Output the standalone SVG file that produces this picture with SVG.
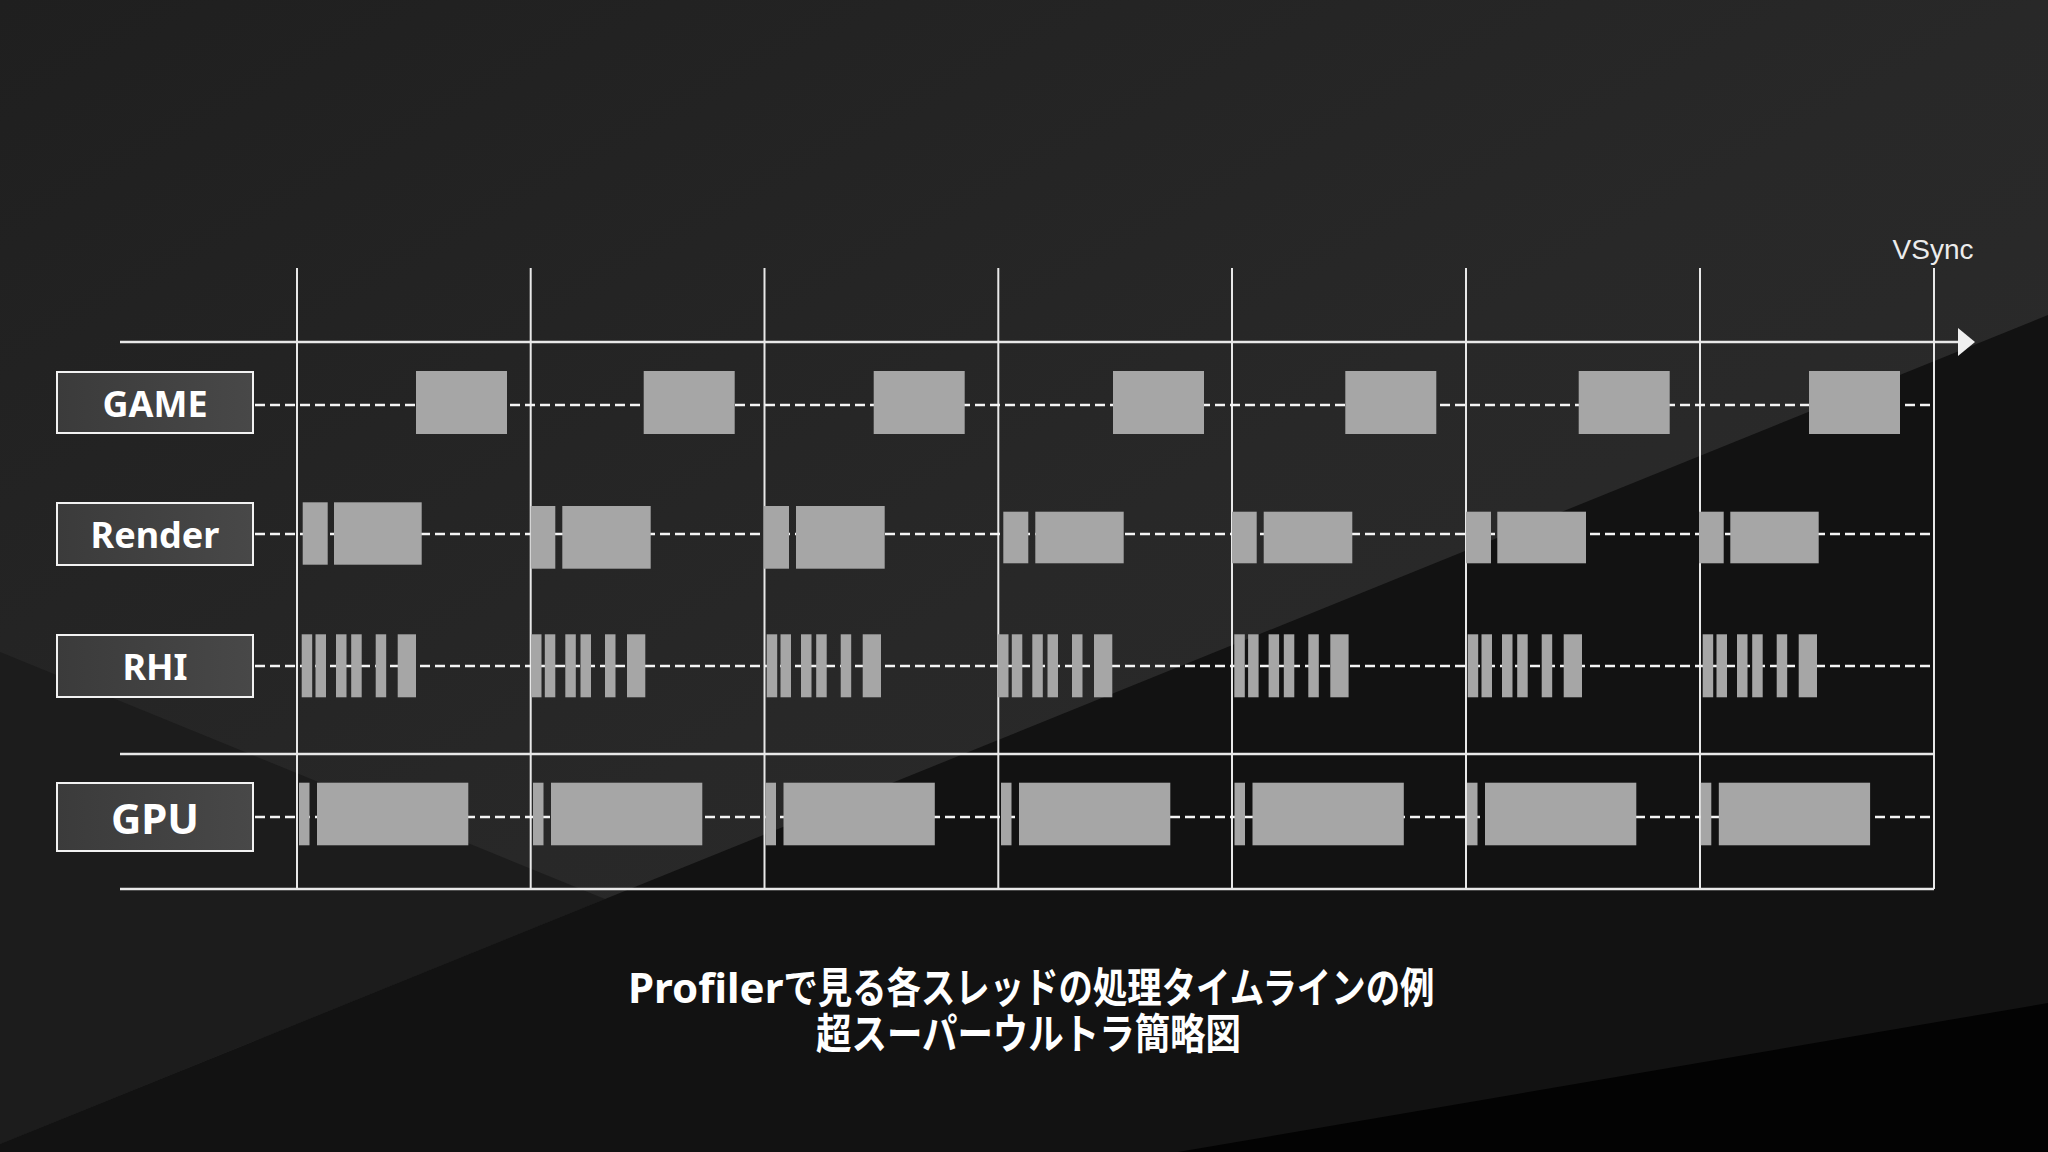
<svg xmlns="http://www.w3.org/2000/svg" xmlns:xlink="http://www.w3.org/1999/xlink" width="2048" height="1152" viewBox="0 0 2048 1152">
  <defs>
    <linearGradient id="bgTop" x1="0" y1="0" x2="1" y2="1">
      <stop offset="0" stop-color="#1f1f1f"/>
      <stop offset="0.5" stop-color="#282828"/>
      <stop offset="1" stop-color="#2d2d2d"/>
    </linearGradient>
    <linearGradient id="boxFill" x1="0" y1="0" x2="1" y2="0">
      <stop offset="0" stop-color="#3b3b3b"/>
      <stop offset="1" stop-color="#484848"/>
    </linearGradient>
    <g id="rhi">
      <rect x="0" y="0" width="10.5" height="63"/>
      <rect x="13.8" y="0" width="10.5" height="63"/>
      <rect x="34.3" y="0" width="10.5" height="63"/>
      <rect x="49.5" y="0" width="10.5" height="63"/>
      <rect x="74" y="0" width="10.5" height="63"/>
      <rect x="96" y="0" width="18.3" height="63"/>
    </g>
    <g id="gpu">
      <rect x="0" y="0" width="10.5" height="62.6"/>
      <rect x="18" y="0" width="151.3" height="62.6"/>
    </g>
  </defs>
  <style>
    .lbox { fill: url(#boxFill); stroke: #f2f2f2; stroke-width: 2; }
    .ltxt { font-family: "Noto Sans", "Liberation Sans", sans-serif; font-weight: bold; fill: #ffffff; text-anchor: middle; }
    .axis { stroke: #e8e8e8; stroke-width: 2.5; fill: none; }
    .vline { stroke: #e8e8e8; stroke-width: 2; fill: none; }
    .dash { stroke: #f4f4f4; stroke-width: 2.4; stroke-dasharray: 10 5; fill: none; }
    .blk { fill: #a6a6a6; }
    .title { font-family: "Noto Sans", "Noto Sans CJK JP", sans-serif; font-weight: bold; font-size: 42px; fill: #ffffff; }
    .title2 { font-family: "Noto Sans CJK JP", sans-serif; font-weight: bold; font-size: 42px; fill: #ffffff; }
  </style>

  <!-- background -->
  <g id="background">
    <rect x="0" y="0" width="2048" height="1152" fill="url(#bgTop)"/>
    <polygon points="0,652 605,899 0,1144" fill="#1c1c1c"/>
    <polygon points="2048,315 2048,1152 0,1152 0,1144" fill="#121212"/>
    <polygon points="2048,1003 2048,1152 1178,1152" fill="#030303"/>
  </g>

  <!-- connectors: axes, frame lines, dashed thread lines -->
  <g id="connectors">
    <line class="axis" x1="120" y1="342" x2="1960" y2="342"/>
    <polygon points="1958,328 1975,342 1958,356" fill="#f0f0f0"/>
    <line class="axis" x1="120" y1="754" x2="1934" y2="754"/>
    <line class="axis" x1="120" y1="889" x2="1934" y2="889"/>
    <line class="vline" x1="297" y1="268" x2="297" y2="889"/>
    <line class="vline" x1="530.7" y1="268" x2="530.7" y2="889"/>
    <line class="vline" x1="764.5" y1="268" x2="764.5" y2="889"/>
    <line class="vline" x1="998.3" y1="268" x2="998.3" y2="889"/>
    <line class="vline" x1="1232" y1="268" x2="1232" y2="889"/>
    <line class="vline" x1="1466" y1="268" x2="1466" y2="889"/>
    <line class="vline" x1="1700" y1="268" x2="1700" y2="889"/>
    <line class="vline" x1="1934" y1="268" x2="1934" y2="889"/>
    <line class="dash" x1="255" y1="405" x2="1934" y2="405"/>
    <line class="dash" x1="255" y1="534" x2="1934" y2="534"/>
    <line class="dash" x1="255" y1="666" x2="1934" y2="666"/>
    <line class="dash" x1="255" y1="817" x2="1934" y2="817"/>
  </g>

  <text id="vsync" x="1933" y="259" font-family="Liberation Sans, Arial, sans-serif" font-size="28" fill="#ececec" text-anchor="middle">VSync</text>

  <!-- thread label nodes -->
  <g id="node-game">
    <rect class="lbox" x="57" y="372" width="196" height="61"/>
    <text class="ltxt" x="155" y="417" font-size="36">GAME</text>
  </g>
  <g id="node-render">
    <rect class="lbox" x="57" y="503" width="196" height="62"/>
    <text class="ltxt" x="155" y="548" font-size="36">Render</text>
  </g>
  <g id="node-rhi">
    <rect class="lbox" x="57" y="635" width="196" height="62"/>
    <text class="ltxt" x="155" y="680" font-size="36">RHI</text>
  </g>
  <g id="node-gpu">
    <rect class="lbox" x="57" y="783" width="196" height="68"/>
    <text class="ltxt" x="155" y="834" font-size="42">GPU</text>
  </g>

  <!-- GAME thread blocks -->
  <g id="game-blocks" class="blk">
    <rect x="416" y="371" width="91" height="63"/>
    <rect x="643.7" y="371" width="91" height="63"/>
    <rect x="873.7" y="371" width="91" height="63"/>
    <rect x="1113" y="371" width="91" height="63"/>
    <rect x="1345.3" y="371" width="91" height="63"/>
    <rect x="1578.7" y="371" width="91" height="63"/>
    <rect x="1809" y="371" width="91" height="63"/>
  </g>

  <!-- Render thread blocks -->
  <g id="render-blocks" class="blk">
    <rect x="302.7" y="502.3" width="25" height="62.4"/>
    <rect x="334" y="502.3" width="87.7" height="62.4"/>
    <rect x="530.7" y="506" width="24.6" height="62.7"/>
    <rect x="562.3" y="506" width="88.4" height="62.7"/>
    <rect x="764" y="506" width="25" height="62.7"/>
    <rect x="796" y="506" width="88.7" height="62.7"/>
    <rect x="1003.3" y="511.7" width="25" height="51.6"/>
    <rect x="1035.3" y="511.7" width="88.4" height="51.6"/>
    <rect x="1232" y="511.7" width="24.7" height="51.6"/>
    <rect x="1263.7" y="511.7" width="88.6" height="51.6"/>
    <rect x="1466" y="511.7" width="25" height="51.6"/>
    <rect x="1497.3" y="511.7" width="88.7" height="51.6"/>
    <rect x="1699" y="511.7" width="24.7" height="51.6"/>
    <rect x="1730.3" y="511.7" width="88.4" height="51.6"/>
  </g>

  <!-- RHI thread blocks -->
  <g id="rhi-blocks" class="blk">
    <use xlink:href="#rhi" href="#rhi" x="301.7" y="634.3"/>
    <use xlink:href="#rhi" href="#rhi" x="531" y="634.3"/>
    <use xlink:href="#rhi" href="#rhi" x="766.7" y="634.3"/>
    <use xlink:href="#rhi" href="#rhi" x="998" y="634.3"/>
    <use xlink:href="#rhi" href="#rhi" x="1234.3" y="634.3"/>
    <use xlink:href="#rhi" href="#rhi" x="1467.7" y="634.3"/>
    <use xlink:href="#rhi" href="#rhi" x="1702.7" y="634.3"/>
  </g>

  <!-- GPU blocks -->
  <g id="gpu-blocks" class="blk">
    <use xlink:href="#gpu" href="#gpu" x="299" y="782.7"/>
    <use xlink:href="#gpu" href="#gpu" x="533" y="782.7"/>
    <use xlink:href="#gpu" href="#gpu" x="765.5" y="782.7"/>
    <use xlink:href="#gpu" href="#gpu" x="1001" y="782.7"/>
    <use xlink:href="#gpu" href="#gpu" x="1234.5" y="782.7"/>
    <use xlink:href="#gpu" href="#gpu" x="1467" y="782.7"/>
    <use xlink:href="#gpu" href="#gpu" x="1700.8" y="782.7"/>
  </g>

  <!-- caption -->
  <g id="caption">
    <text class="title" x="628" y="1003"><tspan>Profiler</tspan><tspan textLength="651" lengthAdjust="spacingAndGlyphs">で見る各スレッドの処理タイムラインの例</tspan></text>
    <text class="title2" x="816" y="1049" textLength="425" lengthAdjust="spacingAndGlyphs">超スーパーウルトラ簡略図</text>
  </g>
</svg>
